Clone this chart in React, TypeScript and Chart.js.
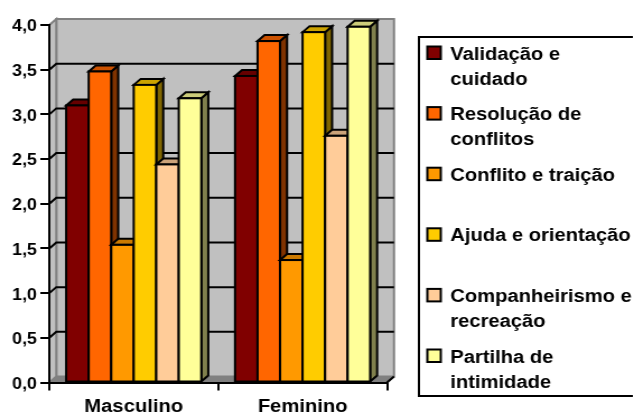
import { useEffect, useRef } from 'react';
import { Chart, registerables } from 'chart.js';

Chart.register(...registerables);

// ---- data ----
const categories = ['Masculino', 'Feminino'];
const seriesNames = [
  'Validação e cuidado',
  'Resolução de conflitos',
  'Conflito e traição',
  'Ajuda e orientação',
  'Companheirismo e recreação',
  'Partilha de intimidade',
];
const legendLines = [
  ['Validação e', 'cuidado'],
  ['Resolução de', 'conflitos'],
  ['Conflito e traição'],
  ['Ajuda e orientação'],
  ['Companheirismo e', 'recreação'],
  ['Partilha de', 'intimidade'],
];
const validacao = [3.1, 3.43];
const resolucao = [3.48, 3.82];
const conflito = [1.54, 1.37];
const ajuda = [3.33, 3.92];
const companheirismo = [2.44, 2.76];
const partilha = [3.18, 3.98];
const seriesValues = [validacao, resolucao, conflito, ajuda, companheirismo, partilha];
const seriesColors = ['#800000', '#FF6600', '#FF9900', '#FFCC00', '#FFCC99', '#FFFF99'];
const yMin = 0;
const yMax = 4;
const yStep = 0.5;

// ---- layout / style ----
const OUT_W = 634;
const OUT_H = 415;
const INNER_W = 566;
const DX = 6.25;
const DY = -6;
const FONT = "'Liberation Sans', Arial, sans-serif";

function shade(hex: string, f: number) {
  const n = parseInt(hex.slice(1), 16);
  const r = Math.round(((n >> 16) & 255) * f);
  const g = Math.round(((n >> 8) & 255) * f);
  const b = Math.round((n & 255) * f);
  return `rgb(${r},${g},${b})`;
}

function poly(ctx: CanvasRenderingContext2D, pts: number[][], fill: string | null, stroke: string | null, lw = 2) {
  ctx.beginPath();
  ctx.moveTo(pts[0][0], pts[0][1]);
  for (let i = 1; i < pts.length; i++) ctx.lineTo(pts[i][0], pts[i][1]);
  ctx.closePath();
  if (fill) {
    ctx.fillStyle = fill;
    ctx.fill();
  }
  if (stroke) {
    ctx.strokeStyle = stroke;
    ctx.lineWidth = lw;
    ctx.lineJoin = 'miter';
    ctx.stroke();
  }
}

function line(ctx: CanvasRenderingContext2D, x1: number, y1: number, x2: number, y2: number) {
  ctx.beginPath();
  ctx.moveTo(x1, y1);
  ctx.lineTo(x2, y2);
  ctx.stroke();
}

const wallPlugin = {
  id: 'wall3d',
  beforeDraw(chart: any) {
    const ctx: CanvasRenderingContext2D = chart.ctx;
    const { left: L, right: R, top: T, bottom: B } = chart.chartArea;
    const y = chart.scales.y;
    ctx.save();
    poly(ctx, [[L + DX, T + DY], [R + DX, T + DY], [R + DX, B + DY], [L + DX, B + DY]], '#C0C0C0', '#808080', 2);
    poly(ctx, [[L, T], [L + DX, T + DY], [L + DX, B + DY], [L, B]], '#C0C0C0', '#808080', 2);
    poly(ctx, [[L, B], [L + DX, B + DY], [R + DX, B + DY], [R, B]], '#808080', null);
    ctx.strokeStyle = '#000';
    ctx.lineWidth = 2;
    line(ctx, R, B, R + DX, B + DY);
    for (let v = yMin + yStep; v < yMax - 1e-9; v += yStep) {
      const py = y.getPixelForValue(v);
      ctx.beginPath();
      ctx.moveTo(L, py);
      ctx.lineTo(L + DX, py + DY);
      ctx.lineTo(R + DX, py + DY);
      ctx.strokeStyle = '#000';
      ctx.lineWidth = 2;
      ctx.stroke();
    }
    ctx.restore();
  },
  afterDatasetsDraw(chart: any) {
    const ctx: CanvasRenderingContext2D = chart.ctx;
    ctx.save();
    for (let j = 0; j < categories.length; j++) {
      for (let i = 0; i < seriesValues.length; i++) {
        const meta = chart.getDatasetMeta(i);
        const el = meta.data[j];
        if (!el) continue;
        const { x, y, base, width } = el.getProps(['x', 'y', 'base', 'width'], true);
        const l = x - width / 2;
        const r = x + width / 2;
        const col = seriesColors[i];
        poly(ctx, [[r, y], [r + DX, y + DY], [r + DX, base + DY], [r, base]], shade(col, 0.5), '#000', 2);
        poly(ctx, [[l, y], [r, y], [r + DX, y + DY], [l + DX, y + DY]], shade(col, 0.8), '#000', 2);
        el.draw(ctx);
        ctx.strokeStyle = '#000';
        ctx.lineWidth = 2;
        ctx.strokeRect(l, y, width, base - y);
      }
    }
    ctx.restore();
  },
  afterDraw(chart: any) {
    const ctx: CanvasRenderingContext2D = chart.ctx;
    const W = chart.width;
    ctx.save();
    const boxL = 374;
    const boxT = 37;
    const boxB = 396;
    ctx.fillStyle = '#000';
    ctx.fillRect(boxL - 1, boxT - 1, W - 1 - (boxL - 1), 2);
    ctx.fillRect(boxL - 1, boxB - 1, W - 1 - (boxL - 1), 2);
    ctx.fillRect(boxL - 1, boxT - 1, 2, boxB - boxT + 2);
    ctx.font = `bold 18px ${FONT}`;
    ctx.textBaseline = 'alphabetic';
    ctx.textAlign = 'left';
    const firstBase = 59.5;
    const step = 60.6;
    for (let i = 0; i < legendLines.length; i++) {
      const b = firstBase + i * step;
      ctx.fillStyle = seriesColors[i];
      ctx.fillRect(381.5, b - 13, 12, 12.5);
      ctx.strokeStyle = '#000';
      ctx.lineWidth = 2;
      ctx.strokeRect(381.5, b - 13, 12, 12.5);
      ctx.fillStyle = '#000';
      legendLines[i].forEach((t, k) => ctx.fillText(t, 402, b + k * 25));
    }
    ctx.restore();
  },
};

export default function App() {
  const ref = useRef<HTMLCanvasElement>(null);
  useEffect(() => {
    Chart.defaults.font.family = FONT;
    const chart = new Chart(ref.current!, {
      type: 'bar',
      data: {
        labels: categories,
        datasets: seriesValues.map((vals, i) => ({
          label: seriesNames[i],
          data: vals,
          backgroundColor: seriesColors[i],
          borderWidth: 0,
          categoryPercentage: 0.8,
          barPercentage: 1.0,
        })),
      },
      options: {
        animation: false,
        responsive: true,
        maintainAspectRatio: false,
        layout: { padding: { left: 0, top: 25, right: INNER_W - 345.5, bottom: 0 } },
        plugins: { legend: { display: false }, tooltip: { enabled: false } },
        scales: {
          x: {
            offset: true,
            grid: { offset: true, drawOnChartArea: false, drawTicks: true, tickLength: 8, color: '#000', lineWidth: 2 },
            border: { display: true, color: '#000', width: 2 },
            ticks: { color: '#000', font: { size: 18, weight: 'bold' }, padding: 6 },
            afterFit: (s: any) => {
              s.height = 32.5;
            },
          },
          y: {
            min: yMin,
            max: yMax,
            grid: { drawOnChartArea: false, drawTicks: true, tickLength: 8, color: '#000', lineWidth: 2 },
            border: { display: true, color: '#000', width: 2 },
            ticks: {
              stepSize: yStep,
              color: '#000',
              padding: 3,
              labelOffset: 2,
              font: { size: 16, weight: 'bold' },
              callback: (v: any) => Number(v).toFixed(1).replace('.', ','),
            },
            afterFit: (s: any) => {
              s.width = 44;
            },
          },
        },
      } as any,
      plugins: [wallPlugin],
    });
    return () => chart.destroy();
  }, []);
  return (
    <div style={{ position: 'fixed', left: 0, top: 0, width: OUT_W, height: OUT_H, overflow: 'hidden', background: '#fff' }}>
      <div style={{ width: INNER_W, height: OUT_H, transform: `scaleX(${OUT_W / INNER_W})`, transformOrigin: '0 0' }}>
        <canvas ref={ref} />
      </div>
    </div>
  );
}
